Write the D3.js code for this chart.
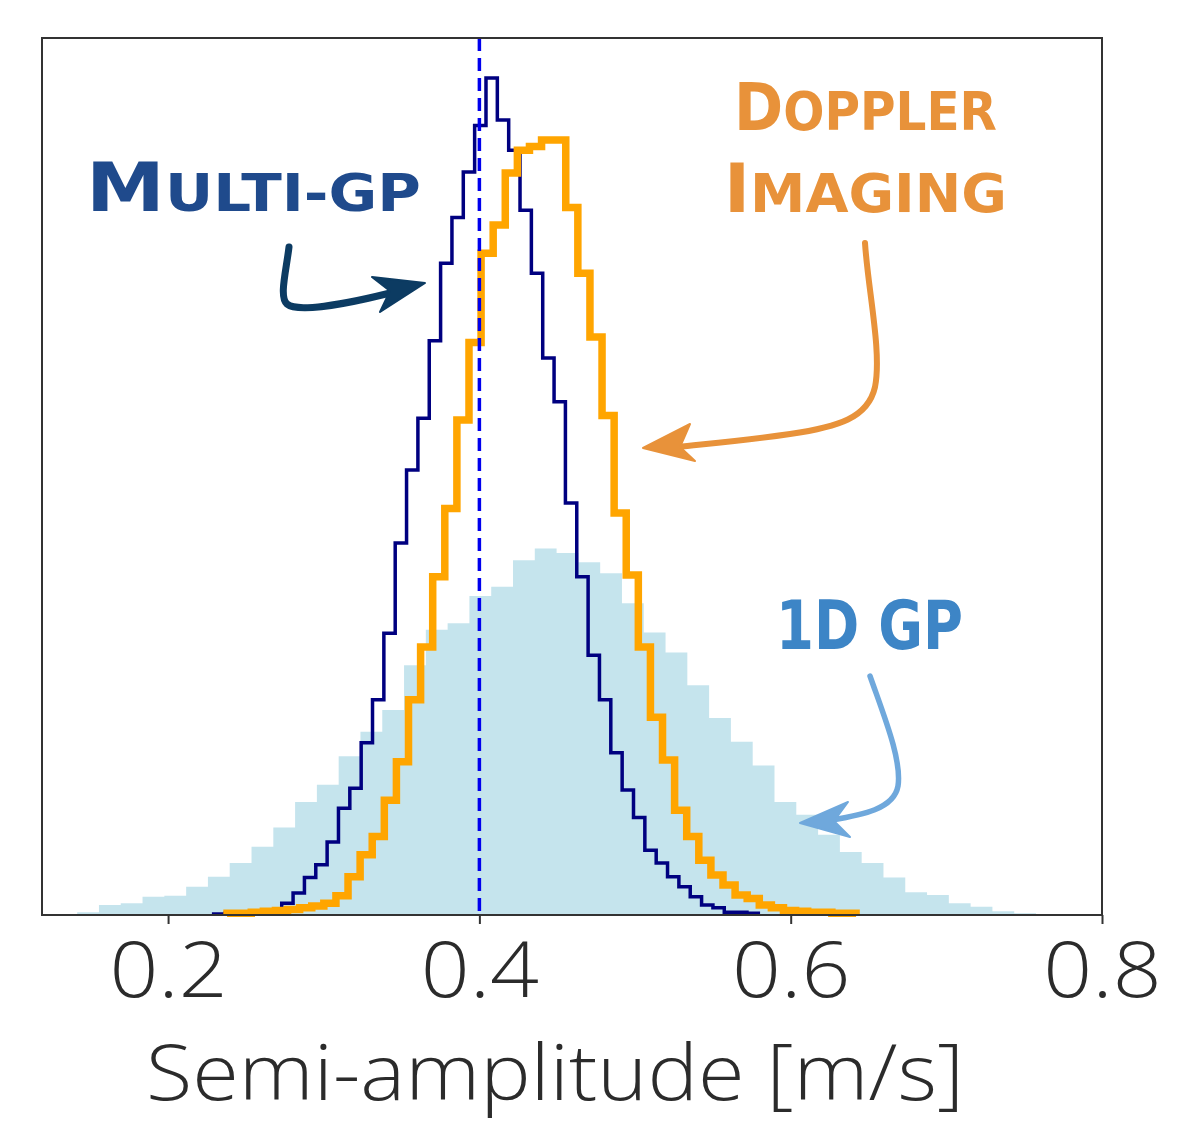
<!DOCTYPE html>
<html>
<head>
<meta charset="utf-8">
<script src="https://cdn.jsdelivr.net/npm/d3@7"></script>
<style>
  body { margin: 0; background: #fff; }
  svg { display: block; }
</style>
</head>
<body>
<script>
// posterior histograms of the semi-amplitude (density normalised)
var gp1dStart = 0.1416, gp1dWidth = 0.0140;
var gp1dDensity = [0.03, 0.11, 0.13, 0.20, 0.21, 0.31, 0.42, 0.57, 0.75, 0.96,
  1.24, 1.43, 1.74, 2.01, 2.25, 2.74, 3.13, 3.20, 3.50, 3.60,
  3.89, 4.02, 3.97, 3.87, 3.75, 3.42, 3.10, 2.88, 2.52, 2.16,
  1.90, 1.64, 1.24, 1.10, 0.88, 0.69, 0.57, 0.41, 0.25, 0.22,
  0.13, 0.09, 0.04, 0.02];

var multiStart = 0.22928, multiWidth = 0.00729;
var multiDensity = [0.01, 0.02, 0.02, 0.02, 0.03, 0.04,
  0.13, 0.24, 0.41, 0.55, 0.80, 1.17, 1.39, 1.89, 2.36, 3.09,
  4.08, 4.88, 5.45, 6.30, 7.15, 7.65, 8.15, 8.66, 9.18, 8.72,
  8.39, 7.73, 7.04, 6.11, 5.63, 4.52, 3.71, 2.85, 2.36, 1.78,
  1.37, 1.07, 0.71, 0.57, 0.42, 0.31, 0.20, 0.11, 0.08, 0.03,
  0.03, 0.02];

var dopplerStart = 0.2379, dopplerWidth = 0.007771;
var dopplerDensity = [0.02, 0.02, 0.03, 0.04, 0.05, 0.06, 0.08, 0.10, 0.13, 0.21,
  0.42, 0.66, 0.86, 1.26, 1.68, 2.36, 2.94, 3.71, 4.46, 5.43,
  6.28, 7.26, 7.57, 8.14, 8.39, 8.43, 8.50, 8.50, 7.76, 7.04,
  6.34, 5.48, 4.41, 3.73, 2.94, 2.17, 1.70, 1.15, 0.86, 0.60,
  0.44, 0.33, 0.22, 0.18, 0.11, 0.08, 0.05, 0.04, 0.03, 0.03,
  0.02, 0.02];

var trueValue = 0.4;
var xTicks = [0.2, 0.4, 0.6, 0.8];
var xLabel = "Semi-amplitude [m/s]";

var margin = {top: 38, right: 80, bottom: 210, left: 42},
    width = 1182 - margin.left - margin.right,
    height = 1125 - margin.top - margin.bottom;

var x = d3.scaleLinear().domain([0.119, 0.8]).range([0, width]);
var y = d3.scaleLinear().domain([0, 9.62]).range([height, 0]);

var svg = d3.select("body").append("svg")
    .attr("width", width + margin.left + margin.right)
    .attr("height", height + margin.top + margin.bottom);

var g = svg.append("g")
    .attr("transform", "translate(" + margin.left + "," + margin.top + ")");

// turn start / width / values into bins
function toBins(start, w, vals) {
  return vals.map(function(v, i) {
    return {x0: start + i * w, x1: start + (i + 1) * w, v: v};
  });
}

// points for an outlined step histogram (like histtype='step')
function stepPoints(bins) {
  var pts = [[bins[0].x0, 0]];
  bins.forEach(function(b) { pts.push([b.x0, b.v]); });
  pts.push([bins[bins.length - 1].x1, 0]);
  return pts;
}

var gp1dBins = toBins(gp1dStart, gp1dWidth, gp1dDensity),
    multiBins = toBins(multiStart, multiWidth, multiDensity),
    dopplerBins = toBins(dopplerStart, dopplerWidth, dopplerDensity);

// filled 1D GP histogram
var areaPts = gp1dBins.map(function(b) { return [b.x0, b.v]; });
areaPts.push([gp1dBins[gp1dBins.length - 1].x1, gp1dBins[gp1dBins.length - 1].v]);

g.append("path")
    .datum(areaPts)
    .attr("fill", "lightblue")
    .attr("fill-opacity", 0.7)
    .attr("d", d3.area()
      .curve(d3.curveStepAfter)
      .x(function(d) { return x(d[0]); })
      .y0(y(0))
      .y1(function(d) { return y(d[1]); }));

var stepLine = d3.line()
    .curve(d3.curveStepAfter)
    .x(function(d) { return x(d[0]); })
    .y(function(d) { return y(d[1]); });

// multi-GP
g.append("path")
    .datum(stepPoints(multiBins))
    .attr("fill", "none")
    .attr("stroke", "#000080")
    .attr("stroke-width", 3.5)
    .attr("stroke-linejoin", "miter")
    .attr("d", stepLine);

// doppler imaging
g.append("path")
    .datum(stepPoints(dopplerBins))
    .attr("fill", "none")
    .attr("stroke", "#ffa500")
    .attr("stroke-width", 7.5)
    .attr("stroke-linejoin", "miter")
    .attr("d", stepLine);

// true value
g.append("line")
    .attr("x1", x(trueValue)).attr("x2", x(trueValue))
    .attr("y1", 0).attr("y2", height)
    .attr("stroke", "#0000ee")
    .attr("stroke-width", 3.5)
    .attr("stroke-dasharray", "13,7");

// frame
g.append("rect")
    .attr("width", width)
    .attr("height", height)
    .attr("fill", "none")
    .attr("stroke", "#333")
    .attr("stroke-width", 2);

// x-axis
var xAxis = g.append("g")
    .attr("transform", "translate(0," + height + ")")
    .call(d3.axisBottom(x).tickValues(xTicks).tickFormat(d3.format(".1f")).tickSize(9));

xAxis.select(".domain").remove();
xAxis.selectAll(".tick line")
    .attr("stroke", "#333")
    .attr("stroke-width", 2);
xAxis.selectAll(".tick text")
    .attr("y", 82)
    .attr("dy", null)
    .attr("fill", "#2b2b2b")
    .style("font-family", "'Open Sans', 'DejaVu Sans', sans-serif")
    .style("font-weight", 300)
    .style("font-size", "78px")
    .each(function() {
      // the figure's font runs a little wider than Open Sans
      var len = this.getComputedTextLength();
      d3.select(this).attr("textLength", len * 1.1).attr("lengthAdjust", "spacingAndGlyphs");
    });

svg.append("text")
    .attr("x", 555)
    .attr("y", 1100)
    .attr("text-anchor", "middle")
    .attr("textLength", 818)
    .attr("lengthAdjust", "spacingAndGlyphs")
    .attr("fill", "#2b2b2b")
    .style("font-family", "'Open Sans', 'DejaVu Sans', sans-serif")
    .style("font-weight", 300)
    .style("font-size", "77px")
    .text(xLabel);

// hand-lettered annotations, squeezed to the width they take in the figure
var notes = svg.append("g");

function handText(parts, x0, x1, baseline, color) {
  var t = notes.append("text")
      .attr("fill", color)
      .style("font-family", "'DejaVu Sans', sans-serif")
      .style("font-weight", "bold");
  parts.forEach(function(p) {
    t.append("tspan").style("font-size", p[1] + "px").text(p[0]);
  });
  var bb = t.node().getBBox();
  var sx = (x1 - x0) / bb.width;
  t.attr("transform", "translate(" + (x0 - bb.x * sx) + "," + baseline + ") scale(" + sx + ",1)");
}

function arrow(d, head, color, w) {
  notes.append("path")
      .attr("d", d)
      .attr("fill", "none")
      .attr("stroke", color)
      .attr("stroke-width", w)
      .attr("stroke-linecap", "round");
  notes.append("path")
      .attr("d", "M" + head.map(function(p) { return p.join(","); }).join("L") + "Z")
      .attr("fill", color)
      .attr("stroke", color)
      .attr("stroke-width", 2)
      .attr("stroke-linejoin", "round");
}

handText([["M", 68], ["ULTI-GP", 51]], 86, 421, 211, "#1f4a8c");
arrow("M289,247 C286,272 279,297 287,304 C296,312 340,306 398,291",
      [[425, 283], [372, 277], [390, 291], [380, 312]], "#0c3b62", 7);

handText([["D", 66], ["OPPLER", 54]], 734, 997, 130, "#e8923a");
handText([["I", 68], ["MAGING", 54]], 724, 1007, 212, "#e8923a");
arrow("M865,243 C868,290 882,352 875,387 C868,418 838,427 790,434 C742,441 705,444 678,447",
      [[643, 448], [690, 424], [680, 447], [695, 461]], "#e8923a", 6);

handText([["1D GP", 68]], 776, 963, 649, "#3d85c6");
arrow("M870,676 C884,716 902,760 898,786 C894,809 862,815 832,820",
      [[800, 823], [848, 802], [834, 821], [850, 837]], "#6fa8dc", 5.5);
</script>
</body>
</html>
